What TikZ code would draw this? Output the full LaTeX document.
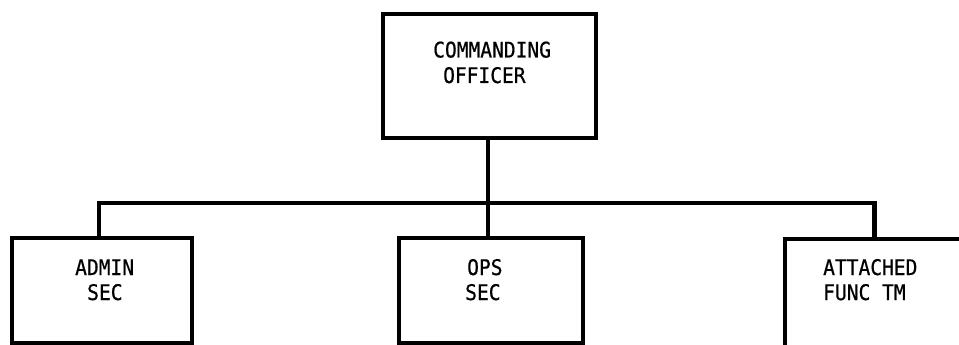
\documentclass[tikz,border=0pt]{standalone}
\usepackage{fontspec}
\newfontfamily\typewriter{DejaVu Sans Mono}[FakeStretch=0.91,FakeBold=0.6]
\begin{document}
\begin{tikzpicture}[x=1pt,y=-1pt,
  orgbox/.style={draw=black,line width=4.8pt,rectangle,inner sep=0pt,outer sep=0pt},
  txt/.style={anchor=base west,inner sep=0pt,font=\typewriter\fontsize{21.5}{25}\selectfont},
  link/.style={draw=black,line width=4.8pt}]
\useasboundingbox (0,0) rectangle (959,345);
\fill[white] (0,0) rectangle (959,345);
\clip (0,0) rectangle (959,345);

% boxes
\node[orgbox,minimum width=213pt,minimum height=124pt] (co) at (489.5,76) {};
\node[orgbox,minimum width=180pt,minimum height=105pt] (admin) at (102,290.5) {};
\node[orgbox,minimum width=184pt,minimum height=105pt] (ops) at (491,290.5) {};
\node[orgbox,minimum width=400pt,minimum height=300pt] (att) at (985,389) {};

% labels
\node[txt] (co1) at (433,57.5) {COMMANDING};
\node[txt] (co2) at (443,83) {OFFICER};
\node[txt] (ad1) at (75,275) {ADMIN};
\node[txt] (ad2) at (87,300) {SEC};
\node[txt] (op1) at (467,275) {OPS};
\node[txt] (op2) at (465,300) {SEC};
\node[txt] (at1) at (823,275) {ATTACHED};
\node[txt] (at2) at (823,300) {FUNC TM};

% connectors
\coordinate (bus) at (0,203);
\coordinate (attj) at (874.5,239);
\draw[link] ([xshift=-1.5pt]co.south) -- ([xshift=-3pt]ops.north);
\draw[link] ([xshift=-3pt]admin.north) -- ([xshift=-3pt]admin.north |- bus) -- (attj |- bus) -- (attj);
\end{tikzpicture}
\end{document}
